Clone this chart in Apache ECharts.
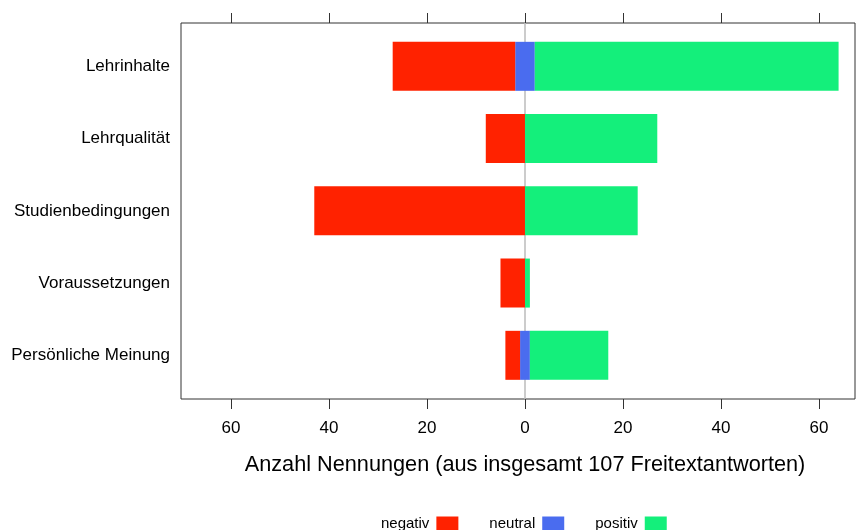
<!DOCTYPE html>
<html><head><meta charset="utf-8">
<script src="https://cdn.jsdelivr.net/npm/echarts@6/dist/echarts.min.js"></script>
<style>html,body{margin:0;padding:0;background:#fff}#c{width:856px;height:530px}</style>
</head><body><div id="c"></div>
<script>
const categories = ['Lehrinhalte', 'Lehrqualität', 'Studienbedingungen', 'Voraussetzungen', 'Persönliche Meinung'];
const negativ = [25, 8, 43, 5, 3];
const neutral = [4, 0, 0, 0, 2];
const positiv = [62, 27, 23, 1, 16];
const tickValues = [-60, -40, -20, 0, 20, 40, 60];
const xTitle = 'Anzahl Nennungen (aus insgesamt 107 Freitextantworten)';

const FONT = 'Liberation Sans, Arial, sans-serif';
const RED = '#FF2200', BLUE = '#4A6CEF', GREEN = '#14EF7B';
const xMin = -70.2, xMax = 67.35;

const chart = echarts.init(document.getElementById('c'), null, {renderer: 'canvas'});
chart.setOption({
  animation: false,
  textStyle: {fontFamily: FONT},
  title: {
    text: xTitle, left: 520, top: 449, textAlign: 'center',
    textStyle: {fontFamily: FONT, fontSize: 21.7, fontWeight: 'normal', color: '#000'}
  },
  legend: {
    data: ['negativ', 'neutral', 'positiv'],
    left: 376, top: 511, align: 'right', icon: 'rect',
    itemWidth: 22, itemHeight: 14, itemGap: 31,
    textStyle: {fontFamily: FONT, fontSize: 15, color: '#000', padding: [0, 2, 0, 0]}
  },
  grid: [
    {left: 181, right: 1, top: 30.2, height: 361.25, containLabel: false},
    {left: 181, right: 1, top: 23, height: 376, show: true, borderColor: '#333', borderWidth: 1, backgroundColor: 'transparent', containLabel: false}
  ],
  xAxis: [
    {gridIndex: 0, type: 'value', min: xMin, max: xMax, show: false},
    {gridIndex: 1, type: 'value', min: xMin, max: xMax, position: 'bottom',
      axisLine: {show: false}, splitLine: {show: false},
      axisTick: {show: true, inside: false, length: 10, customValues: tickValues, lineStyle: {color: '#333', width: 1}},
      axisLabel: {show: true, margin: 21, customValues: tickValues, fontSize: 17, color: '#000', fontFamily: FONT,
        formatter: v => String(Math.abs(v))}
    },
    {gridIndex: 1, type: 'value', min: xMin, max: xMax, position: 'top',
      axisLine: {show: false}, splitLine: {show: false},
      axisTick: {show: true, inside: false, length: 10, customValues: tickValues, lineStyle: {color: '#333', width: 1}},
      axisLabel: {show: false}
    }
  ],
  yAxis: [
    {gridIndex: 0, type: 'category', data: categories, inverse: true,
      axisLine: {show: false}, axisTick: {show: false}, splitLine: {show: false},
      axisLabel: {margin: 11, fontSize: 17, color: '#000', fontFamily: FONT, padding: [4, 0, 0, 0]}
    },
    {gridIndex: 1, type: 'value', min: 0, max: 1, show: false}
  ],
  series: [
    {name: 'zero', type: 'line', xAxisIndex: 1, yAxisIndex: 1, data: [], z: 1,
      markLine: {silent: true, z: 1, symbol: 'none', label: {show: false},
        lineStyle: {color: '#bbbbbb', type: 'solid', width: 1.5},
        data: [{xAxis: 0}]}
    },
    {name: 'neutral', type: 'bar', stack: 's', xAxisIndex: 0, yAxisIndex: 0, barWidth: 49, z: 3,
      itemStyle: {color: BLUE}, data: neutral.map(v => -v / 2)},
    {name: 'negativ', type: 'bar', stack: 's', xAxisIndex: 0, yAxisIndex: 0, barWidth: 49, z: 3,
      itemStyle: {color: RED}, data: negativ.map(v => -v)},
    {name: 'neutral', type: 'bar', stack: 's', xAxisIndex: 0, yAxisIndex: 0, barWidth: 49, z: 3,
      itemStyle: {color: BLUE}, data: neutral.map(v => v / 2)},
    {name: 'positiv', type: 'bar', stack: 's', xAxisIndex: 0, yAxisIndex: 0, barWidth: 49, z: 3,
      itemStyle: {color: GREEN}, data: positiv}
  ]
});
</script>
</body></html>
